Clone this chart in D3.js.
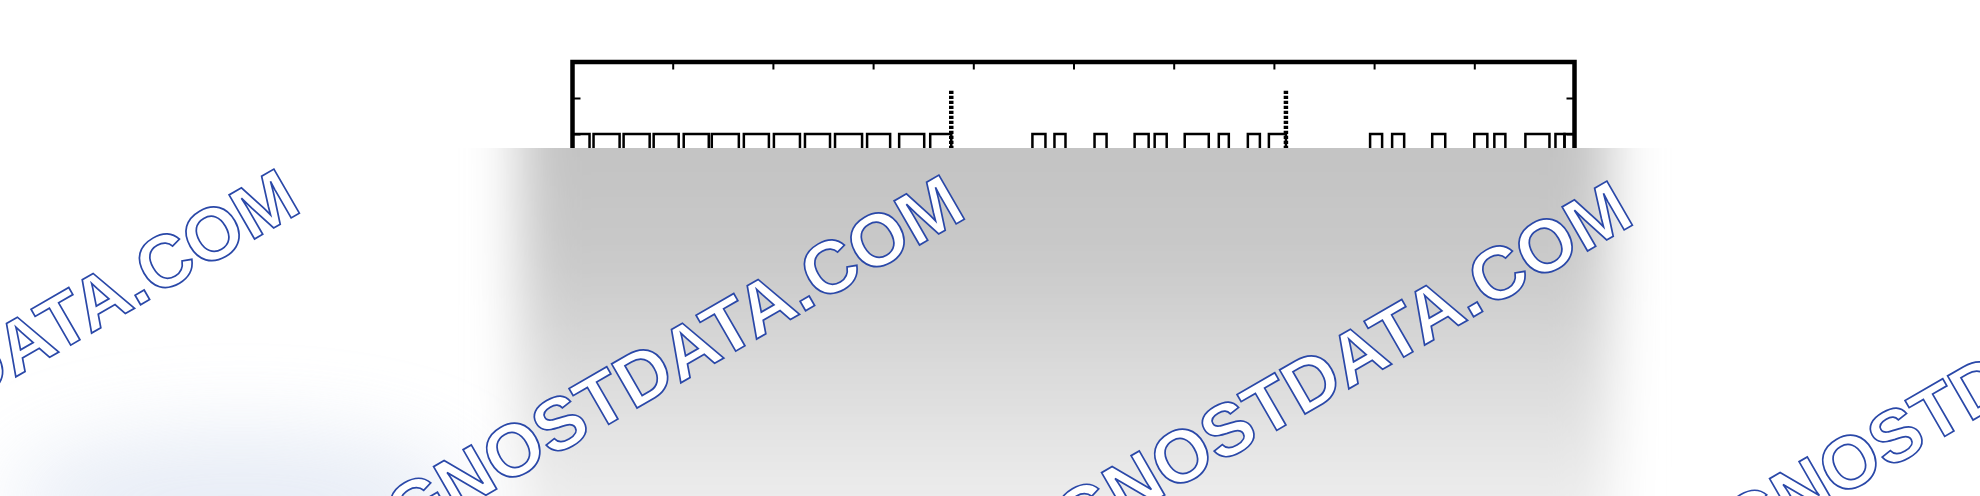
<!DOCTYPE html>
<html><head><meta charset="utf-8">
<script src="https://cdn.jsdelivr.net/npm/d3@7"></script>
<style>html,body{margin:0;padding:0;background:#fff;overflow:hidden}</style>
</head><body>
<svg id="c" width="1980" height="496"></svg>
<script>
// ---- data ----
const pulseStarts = [-0.10, 0.21, 0.51, 0.81, 1.11, 1.39, 1.71, 2.01, 2.32, 2.62, 2.94, 3.26, 3.57,
                     4.59, 4.81, 5.21, 5.61, 5.81, 6.11, 6.45, 6.74, 6.95,
                     7.96, 8.18, 8.58, 9.00, 9.20, 9.51, 9.81, 9.90];
const pulseEnds   = [0.17, 0.47, 0.77, 1.06, 1.36, 1.66, 1.96, 2.27, 2.57, 2.89, 3.17, 3.51, 3.78,
                     4.72, 4.92, 5.33, 5.75, 5.93, 6.35, 6.55, 6.86, 7.12,
                     8.08, 8.30, 8.71, 9.13, 9.31, 9.75, 9.90, 10.10];
const pulseHigh = 1;
const pulseLow = 0;
const markerLines = [3.78, 7.12];
const markerTop = 1.6;
const xTicks = [1, 2, 3, 4, 5, 6, 7, 8, 9];
const yTicks = [-0.5, 0, 0.5, 1, 1.5];
const xDomain = [0, 10];
const yDomain = [-0.5, 2];
const watermarkText = "GNOSTDATA.COM";

// ---- layout ----
const W = 1980, H = 496;
const L = 572.5, R = 1574.5;
const PX_PER_Y = 72, Y_AT_2 = 62;
const svg = d3.select("#c");
const x = d3.scaleLinear().domain(xDomain).range([L, R]);
const y = d3.scaleLinear().domain(yDomain)
  .range([Y_AT_2 + (2 - yDomain[0]) * PX_PER_Y, Y_AT_2 + (2 - yDomain[1]) * PX_PER_Y]);
const T = y(yDomain[1]), B = y(yDomain[0]);

const defs = svg.append("defs");
defs.append("clipPath").attr("id", "plot").append("rect")
  .attr("x", L).attr("y", T).attr("width", R - L).attr("height", B - T);
defs.append("clipPath").attr("id", "below").append("rect")
  .attr("x", 0).attr("y", 148).attr("width", W).attr("height", H - 148);
const blur = defs.append("filter").attr("id", "blur").attr("filterUnits", "userSpaceOnUse")
  .attr("x", -200).attr("y", -200).attr("width", W + 400).attr("height", H + 600);
blur.append("feGaussianBlur").attr("stdDeviation", 26);
const blur2 = defs.append("filter").attr("id", "blur2").attr("filterUnits", "userSpaceOnUse")
  .attr("x", -200).attr("y", -200).attr("width", W + 400).attr("height", H + 600);
blur2.append("feGaussianBlur").attr("stdDeviation", 40);
const grad = defs.append("linearGradient").attr("id", "gray").attr("gradientUnits", "userSpaceOnUse")
  .attr("x1", 0).attr("y1", 148).attr("x2", 0).attr("y2", 520);
[[0, "#c3c3c3"], [0.3, "#c9c9c9"], [0.62, "#dcdcdc"], [1, "#efefef"]].forEach(([o, c]) =>
  grad.append("stop").attr("offset", o).attr("stop-color", c));

// ---- chart ----
const plot = svg.append("g").attr("clip-path", "url(#plot)");
plot.selectAll("rect.pulse").data(pulseStarts.map((s, i) => [s, pulseEnds[i]]))
  .join("rect").attr("class", "pulse")
  .attr("x", d => x(d[0])).attr("width", d => x(d[1]) - x(d[0]))
  .attr("y", y(pulseHigh)).attr("height", y(pulseLow) - y(pulseHigh))
  .attr("fill", "none").attr("stroke", "#000").attr("stroke-width", 2.5);
plot.selectAll("line.marker").data(markerLines).join("line").attr("class", "marker")
  .attr("x1", d => x(d)).attr("x2", d => x(d))
  .attr("y1", y(markerTop)).attr("y2", y(pulseLow))
  .attr("stroke", "#000").attr("stroke-width", 4.5).attr("stroke-dasharray", "3.2,1.8");

function styleAxis(g) {
  g.select(".domain").remove();
  g.selectAll(".tick line").attr("stroke", "#000").attr("stroke-width", 2);
  g.selectAll(".tick text").remove();
}
svg.append("g").attr("transform", `translate(0,${T})`)
  .call(d3.axisTop(x).tickValues(xTicks).tickSize(-7.5).tickFormat("")).call(styleAxis);
svg.append("g").attr("transform", `translate(0,${B})`)
  .call(d3.axisBottom(x).tickValues(xTicks).tickSize(-7.5).tickFormat("")).call(styleAxis);
svg.append("g").attr("transform", `translate(${L},0)`)
  .call(d3.axisLeft(y).tickValues(yTicks).tickSize(-8).tickFormat("")).call(styleAxis);
svg.append("g").attr("transform", `translate(${R},0)`)
  .call(d3.axisRight(y).tickValues(yTicks).tickSize(-8).tickFormat("")).call(styleAxis);
svg.append("rect").attr("x", L).attr("y", T).attr("width", R - L).attr("height", B - T)
  .attr("fill", "none").attr("stroke", "#000").attr("stroke-width", 4.5);

// ---- cover layer ----
const cover = svg.append("g").attr("clip-path", "url(#below)");
cover.append("rect").attr("x", 0).attr("y", 148).attr("width", W).attr("height", H - 148).attr("fill", "#fff");
cover.append("ellipse").attr("cx", 240).attr("cy", 500).attr("rx", 230).attr("ry", 70)
  .attr("fill", "#dfe6f3").attr("opacity", 0.7).attr("filter", "url(#blur2)");
cover.append("g").attr("filter", "url(#blur)")
  .append("rect").attr("x", 520).attr("y", 40).attr("width", 1090).attr("height", 560)
  .attr("fill", "url(#gray)");

// ---- watermark ----
const anchors = [[-260, 536], [405, 542], [1073, 548], [1741, 554]];
svg.append("g").selectAll("text").data(anchors).join("text")
  .attr("transform", d => `translate(${d[0]},${d[1]}) rotate(-30)`)
  .attr("font-family", "'Liberation Sans', Arial, sans-serif")
  .attr("font-weight", "bold").attr("font-size", 74)
  .attr("fill", "#fff").attr("stroke", "#2a48a8").attr("stroke-width", 1.7)
  .text(watermarkText);
</script>
</body></html>
